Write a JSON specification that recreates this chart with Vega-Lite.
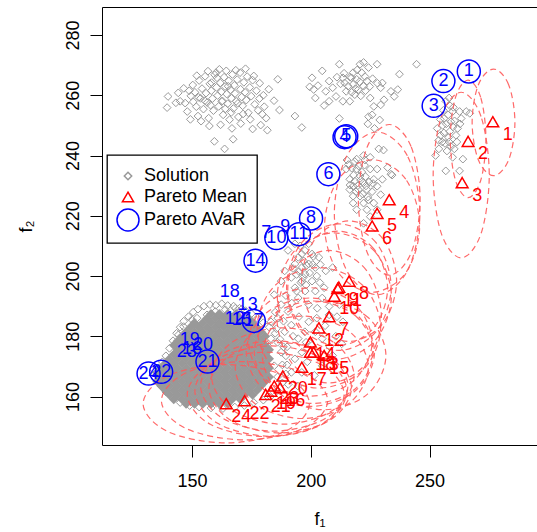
{
"$schema": "https://vega.github.io/schema/vega-lite/v6.json",
"width": 435, "height": 438,
"autosize": {"type": "none"},
"padding": {"left": 102, "top": 7, "right": 0, "bottom": 87},
"background": "white",
"config": {
 "view": {"stroke": null},
 "font": "Liberation Sans",
 "axis": {"grid": false, "domainColor": "black", "tickColor": "black", "labelColor": "black", "titleColor": "black", "labelFont": "Liberation Sans", "titleFont": "Liberation Sans", "labelFontSize": 18, "titleFontSize": 18, "titleFontWeight": "normal", "tickSize": 12, "domainWidth": 1, "tickWidth": 1},
 "legend": {"labelFont": "Liberation Sans", "labelFontSize": 18, "labelColor": "black", "padding": 9, "strokeColor": "black", "fillColor": "white", "rowPadding": 0, "labelOffset": 4, "symbolStrokeWidth": 1.5, "strokeWidth": 1.3, "symbolSize": 484}
},
"datasets": {
"sol": [
{"x":139.9,"y":259.6},{"x":139.5,"y":255.9},{"x":144.2,"y":260.8},{"x":146.5,"y":262.3},{"x":147.1,"y":257.4},{"x":148.0,"y":254.6},{"x":149.5,"y":259.8},{"x":150.3,"y":263.4},{"x":151.2,"y":261.0},{"x":151.8,"y":256.2},{"x":152.5,"y":253.1},{"x":153.0,"y":264.9},{"x":153.6,"y":259.0},{"x":154.2,"y":262.2},{"x":154.8,"y":255.4},{"x":155.5,"y":266.3},{"x":155.9,"y":260.7},{"x":156.4,"y":257.6},{"x":157.0,"y":252.4},{"x":157.5,"y":263.8},{"x":158.1,"y":261.5},{"x":158.6,"y":258.9},{"x":159.0,"y":254.9},{"x":159.5,"y":266.8},{"x":160.1,"y":267.5},{"x":160.3,"y":262.6},{"x":160.8,"y":259.9},{"x":161.2,"y":256.3},{"x":161.5,"y":268.6},{"x":161.9,"y":264.1},{"x":162.3,"y":261.1},{"x":162.8,"y":258.1},{"x":163.1,"y":253.5},{"x":163.5,"y":266.0},{"x":163.9,"y":262.9},{"x":164.4,"y":268.1},{"x":164.6,"y":260.4},{"x":165.0,"y":257.2},{"x":165.4,"y":264.8},{"x":165.8,"y":251.9},{"x":166.2,"y":261.8},{"x":166.6,"y":259.0},{"x":167.0,"y":266.9},{"x":167.4,"y":255.6},{"x":167.8,"y":263.3},{"x":168.1,"y":260.6},{"x":168.6,"y":258.0},{"x":169.0,"y":265.2},{"x":169.5,"y":252.8},{"x":170.2,"y":267.5},{"x":170.4,"y":262.0},{"x":170.9,"y":259.4},{"x":171.3,"y":256.5},{"x":171.8,"y":264.3},{"x":172.3,"y":261.0},{"x":172.8,"y":258.4},{"x":173.2,"y":266.2},{"x":173.7,"y":254.2},{"x":174.3,"y":262.6},{"x":174.9,"y":259.7},{"x":175.5,"y":265.0},{"x":176.0,"y":266.4},{"x":176.4,"y":257.0},{"x":177.1,"y":261.5},{"x":177.8,"y":255.0},{"x":178.4,"y":258.9},{"x":178.9,"y":250.1},{"x":179.6,"y":253.7},{"x":180.4,"y":256.2},{"x":181.2,"y":252.4},{"x":181.7,"y":248.4},{"x":186.1,"y":265.3},{"x":186.8,"y":255.1},{"x":193.3,"y":253.1},{"x":196.2,"y":249.3},{"x":159.4,"y":244.7},{"x":163.7,"y":242.2},{"x":167.3,"y":245.4},{"x":157.3,"y":249.8},{"x":162.0,"y":250.2},{"x":166.8,"y":249.0},{"x":170.5,"y":250.6},{"x":153.8,"y":251.4},{"x":149.3,"y":252.0},{"x":174.5,"y":252.0},{"x":175.5,"y":248.8},{"x":145.0,"y":258.0},{"x":143.2,"y":257.5},{"x":156.7,"y":268.0},{"x":152.0,"y":266.5},{"x":168.4,"y":268.3},{"x":172.5,"y":268.8},{"x":178.5,"y":264.0},{"x":180.0,"y":260.0},{"x":182.3,"y":262.0},{"x":184.5,"y":258.2},{"x":158.2,"y":264.2},{"x":160.5,"y":265.8},{"x":162.5,"y":258.0},{"x":164.0,"y":255.5},{"x":165.2,"y":263.0},{"x":166.5,"y":254.3},{"x":169.3,"y":257.3},{"x":171.5,"y":253.8},{"x":157.8,"y":256.7},{"x":155.4,"y":258.2},{"x":152.8,"y":259.3},{"x":150.5,"y":257.8},{"x":148.8,"y":261.5},
{"x":200.5,"y":265.8},{"x":201.2,"y":261.9},{"x":201.9,"y":259.1},{"x":204.8,"y":268.1},{"x":205.6,"y":256.6},{"x":206.3,"y":261.3},{"x":207.7,"y":264.7},{"x":209.2,"y":262.5},{"x":210.6,"y":259.6},{"x":212.0,"y":270.3},{"x":212.0,"y":252.3},{"x":213.5,"y":265.8},{"x":214.9,"y":261.3},{"x":216.4,"y":258.0},{"x":217.8,"y":267.5},{"x":217.8,"y":263.6},{"x":219.3,"y":265.3},{"x":220.0,"y":261.9},{"x":220.7,"y":270.3},{"x":221.4,"y":267.5},{"x":222.2,"y":270.9},{"x":223.6,"y":264.7},{"x":224.3,"y":269.2},{"x":225.0,"y":259.1},{"x":225.8,"y":253.5},{"x":226.5,"y":256.3},{"x":227.9,"y":270.3},{"x":229.4,"y":262.5},{"x":230.1,"y":264.1},{"x":230.8,"y":258.5},{"x":233.7,"y":261.3},{"x":235.1,"y":259.6},{"x":236.6,"y":261.9},{"x":237.3,"y":267.0},{"x":244.5,"y":270.3},{"x":229.4,"y":256.8},{"x":224.3,"y":252.9},{"x":214.2,"y":264.1},{"x":217.1,"y":265.8},{"x":218.5,"y":260.2},{"x":215.7,"y":263.0},{"x":222.2,"y":263.0},{"x":213.5,"y":258.0},{"x":207.7,"y":258.0},{"x":216.5,"y":266.0},{"x":218.8,"y":262.2},{"x":220.5,"y":264.5},{"x":222.8,"y":266.2},{"x":219.5,"y":268.4},{"x":217.2,"y":261.0},{"x":221.0,"y":259.8},{"x":223.0,"y":261.5},{"x":214.0,"y":267.3},{"x":212.5,"y":263.8},{"x":211.0,"y":266.0},{"x":226.0,"y":265.5},{"x":228.0,"y":264.0},{"x":224.8,"y":262.9},{"x":203.0,"y":263.2},{"x":199.5,"y":262.8},
{"x":219.3,"y":238.8},{"x":222.2,"y":240.0},{"x":225.0,"y":239.4},{"x":228.6,"y":242.2},{"x":232.3,"y":236.0},{"x":233.7,"y":233.8},{"x":214.9,"y":235.5},{"x":216.4,"y":232.1},{"x":217.8,"y":229.8},{"x":219.3,"y":235.5},{"x":220.7,"y":233.2},{"x":222.2,"y":231.0},{"x":223.6,"y":228.7},{"x":225.0,"y":235.5},{"x":226.5,"y":232.1},{"x":227.9,"y":229.8},{"x":229.4,"y":227.0},{"x":220.7,"y":226.5},{"x":222.2,"y":224.2},{"x":223.6,"y":222.0},{"x":225.0,"y":219.7},{"x":217.8,"y":224.2},{"x":219.3,"y":222.0},{"x":226.5,"y":224.2},{"x":227.9,"y":222.0},{"x":222.2,"y":217.5},{"x":217.8,"y":226.5},{"x":216.4,"y":228.7},{"x":220.0,"y":228.7},{"x":224.3,"y":225.3},{"x":227.9,"y":235.5},{"x":230.1,"y":232.1},{"x":218.5,"y":231.5},{"x":219.8,"y":230.0},{"x":221.0,"y":231.8},{"x":218.0,"y":233.5},{"x":220.2,"y":236.5},{"x":221.5,"y":234.5},{"x":223.0,"y":233.0},{"x":224.5,"y":231.2},{"x":219.0,"y":228.0},{"x":221.8,"y":227.2},{"x":223.2,"y":229.9},{"x":217.2,"y":235.8},{"x":215.8,"y":237.0},{"x":222.6,"y":236.8},{"x":224.0,"y":226.2},{"x":225.8,"y":228.0},{"x":218.5,"y":238.0},{"x":226.2,"y":230.7},{"x":216.5,"y":230.2},{"x":222.8,"y":238.5},{"x":224.0,"y":250.5},{"x":226.8,"y":249.0},{"x":229.0,"y":251.8},{"x":215.2,"y":238.5},{"x":230.6,"y":241.8},{"x":234.2,"y":233.5},
{"x":252.5,"y":240.0},{"x":253.9,"y":242.2},{"x":256.8,"y":258.0},{"x":258.2,"y":259.1},{"x":262.6,"y":254.6},{"x":263.3,"y":252.3},{"x":265.4,"y":254.6},{"x":266.9,"y":254.0},{"x":259.7,"y":239.4},{"x":262.6,"y":234.9},{"x":256.8,"y":234.9},{"x":264.0,"y":238.8},{"x":255.3,"y":244.5},{"x":256.1,"y":252.3},{"x":261.1,"y":246.7},{"x":259.0,"y":251.2},{"x":253.2,"y":249.0},{"x":254.6,"y":246.7},{"x":258.2,"y":244.5},{"x":260.4,"y":242.2},{"x":261.8,"y":249.0},{"x":259.7,"y":254.6},{"x":257.0,"y":250.5},{"x":258.5,"y":248.0},{"x":256.0,"y":247.5},{"x":259.8,"y":249.5},{"x":257.8,"y":253.5},{"x":255.5,"y":250.0},{"x":260.5,"y":251.5},{"x":258.0,"y":246.0},{"x":256.5,"y":244.0},{"x":259.0,"y":243.0},{"x":254.5,"y":252.0},{"x":257.3,"y":241.5},{"x":255.8,"y":255.0},{"x":261.5,"y":244.5},{"x":262.8,"y":250.5},{"x":253.8,"y":245.0},{"x":260.0,"y":256.0},{"x":258.6,"y":256.5},
{"x":190.4,"y":208.5},{"x":193.3,"y":210.7},{"x":194.7,"y":206.2},{"x":196.2,"y":202.8},{"x":197.6,"y":200.6},{"x":199.1,"y":204.0},{"x":200.5,"y":198.3},{"x":196.2,"y":198.3},{"x":191.8,"y":199.5},{"x":189.0,"y":201.7},{"x":193.3,"y":196.1},{"x":201.9,"y":195.0},{"x":204.8,"y":192.7},{"x":199.1,"y":190.5},{"x":194.7,"y":192.7},{"x":206.3,"y":201.7},{"x":209.2,"y":202.8},{"x":203.4,"y":206.2},{"x":193.3,"y":204.0},{"x":187.5,"y":198.3},{"x":196.2,"y":207.3},{"x":199.1,"y":210.7},{"x":200.5,"y":207.3},{"x":201.9,"y":202.8},{"x":197.6,"y":195.0},{"x":202.7,"y":189.3},{"x":207.7,"y":189.9},{"x":205.6,"y":196.1},{"x":195.0,"y":201.5},{"x":196.8,"y":199.5},{"x":198.2,"y":203.5},{"x":197.0,"y":205.0},{"x":195.8,"y":197.8},{"x":199.5,"y":201.0},{"x":200.8,"y":203.8},{"x":198.0,"y":197.0},{"x":194.0,"y":200.5},{"x":192.5,"y":202.5},{"x":202.5,"y":200.0},{"x":203.8,"y":197.8},{"x":201.0,"y":206.5},{"x":197.5,"y":208.5},{"x":195.5,"y":210.0},{"x":204.0,"y":203.8},
{"x":184.6,"y":193.8},{"x":187.5,"y":190.5},{"x":190.4,"y":188.2},{"x":186.1,"y":186.0},{"x":191.8,"y":183.7},{"x":189.0,"y":181.5},{"x":194.7,"y":179.2},{"x":199.1,"y":184.8},{"x":201.9,"y":181.5},{"x":196.2,"y":174.7},{"x":193.3,"y":172.5},{"x":187.5,"y":174.7},{"x":183.2,"y":179.2},{"x":184.6,"y":170.2},{"x":191.8,"y":168.0},{"x":200.5,"y":177.0},{"x":204.8,"y":179.2},{"x":207.7,"y":187.1},{"x":212.0,"y":190.5},{"x":213.5,"y":184.8},{"x":209.2,"y":173.6},{"x":204.8,"y":170.2},{"x":196.2,"y":168.0},{"x":183.2,"y":184.8},{"x":181.7,"y":177.0},{"x":186.0,"y":178.0},{"x":188.5,"y":185.0},{"x":190.0,"y":176.5},{"x":192.5,"y":180.0},{"x":185.5,"y":182.5},{"x":195.0,"y":186.5},{"x":197.5,"y":181.5},{"x":189.5,"y":193.5},{"x":192.0,"y":191.0},{"x":194.0,"y":195.0},{"x":185.0,"y":188.0},{"x":198.0,"y":178.0},{"x":202.5,"y":186.0},{"x":206.0,"y":183.5},{"x":210.5,"y":180.0},{"x":213.0,"y":177.5},{"x":208.0,"y":176.5},{"x":211.0,"y":186.5},{"x":188.0,"y":170.5},{"x":190.5,"y":164.0},{"x":186.0,"y":166.5},{"x":194.5,"y":163.5},{"x":198.5,"y":171.5},{"x":201.5,"y":167.0},
{"x":136.0,"y":169.5},{"x":137.5,"y":171.5},{"x":139.0,"y":173.5},{"x":140.5,"y":176.0},{"x":142.0,"y":178.5},{"x":143.5,"y":181.0},{"x":145.0,"y":183.0},{"x":146.5,"y":185.0},{"x":148.5,"y":186.5},{"x":150.5,"y":188.0},{"x":152.5,"y":189.0},{"x":155.0,"y":190.0},{"x":157.5,"y":190.5},{"x":160.0,"y":190.3},{"x":162.5,"y":190.8},{"x":165.0,"y":190.2},{"x":167.5,"y":190.0},{"x":170.0,"y":189.3},{"x":172.5,"y":188.5},{"x":175.0,"y":187.5},{"x":177.5,"y":186.0},{"x":180.0,"y":184.5},{"x":182.5,"y":183.0},{"x":185.0,"y":181.0},{"x":187.0,"y":179.0},{"x":188.5,"y":176.5},{"x":189.5,"y":173.5},{"x":190.0,"y":170.5},{"x":189.5,"y":167.5},{"x":188.0,"y":164.5},{"x":186.0,"y":162.0},{"x":183.0,"y":160.0},{"x":180.0,"y":158.8},{"x":176.0,"y":158.0},{"x":172.0,"y":157.0},{"x":168.0,"y":156.5},{"x":163.0,"y":156.0},{"x":158.0,"y":156.2},{"x":153.0,"y":156.5},{"x":149.0,"y":157.0},{"x":145.0,"y":158.0},{"x":142.0,"y":159.5},{"x":139.0,"y":161.5},{"x":137.0,"y":163.5},{"x":135.5,"y":165.5},{"x":134.5,"y":167.5},{"x":133.8,"y":169.0},{"x":144.3,"y":180.5},{"x":146.4,"y":183.2},{"x":150.0,"y":185.5},{"x":152.1,"y":186.0},{"x":156.3,"y":187.1},{"x":159.8,"y":188.2},{"x":164.0,"y":188.8},{"x":168.2,"y":189.3},{"x":171.0,"y":189.1}
],
"core": [
{"x":147.5,"y":157.5},{"x":151,"y":157.5},{"x":154.5,"y":157.5},{"x":158,"y":157.5},{"x":161.5,"y":157.5},{"x":165,"y":157.5},
{"x":142.3,"y":159},{"x":145.8,"y":159},{"x":149.3,"y":159},{"x":152.8,"y":159},{"x":156.3,"y":159},{"x":159.8,"y":159},{"x":163.3,"y":159},{"x":166.8,"y":159},{"x":170.3,"y":159},
{"x":140.5,"y":160.5},{"x":144,"y":160.5},{"x":147.5,"y":160.5},{"x":151,"y":160.5},{"x":154.5,"y":160.5},{"x":158,"y":160.5},{"x":161.5,"y":160.5},{"x":165,"y":160.5},{"x":168.5,"y":160.5},{"x":172,"y":160.5},{"x":175.5,"y":160.5},
{"x":138.8,"y":162},{"x":142.3,"y":162},{"x":145.8,"y":162},{"x":149.3,"y":162},{"x":152.8,"y":162},{"x":156.3,"y":162},{"x":159.8,"y":162},{"x":163.3,"y":162},{"x":166.8,"y":162},{"x":170.3,"y":162},{"x":173.8,"y":162},{"x":177.3,"y":162},
{"x":137,"y":163.5},{"x":140.5,"y":163.5},{"x":144,"y":163.5},{"x":147.5,"y":163.5},{"x":151,"y":163.5},{"x":154.5,"y":163.5},{"x":158,"y":163.5},{"x":161.5,"y":163.5},{"x":165,"y":163.5},{"x":168.5,"y":163.5},{"x":172,"y":163.5},{"x":175.5,"y":163.5},{"x":179,"y":163.5},
{"x":135.3,"y":165},{"x":138.8,"y":165},{"x":142.3,"y":165},{"x":145.8,"y":165},{"x":149.3,"y":165},{"x":152.8,"y":165},{"x":156.3,"y":165},{"x":159.8,"y":165},{"x":163.3,"y":165},{"x":166.8,"y":165},{"x":170.3,"y":165},{"x":173.8,"y":165},{"x":177.3,"y":165},{"x":180.8,"y":165},
{"x":137,"y":166.5},{"x":140.5,"y":166.5},{"x":144,"y":166.5},{"x":147.5,"y":166.5},{"x":151,"y":166.5},{"x":154.5,"y":166.5},{"x":158,"y":166.5},{"x":161.5,"y":166.5},{"x":165,"y":166.5},{"x":168.5,"y":166.5},{"x":172,"y":166.5},{"x":175.5,"y":166.5},{"x":179,"y":166.5},{"x":182.5,"y":166.5},
{"x":135.3,"y":168},{"x":138.8,"y":168},{"x":142.3,"y":168},{"x":145.8,"y":168},{"x":149.3,"y":168},{"x":152.8,"y":168},{"x":156.3,"y":168},{"x":159.8,"y":168},{"x":163.3,"y":168},{"x":166.8,"y":168},{"x":170.3,"y":168},{"x":173.8,"y":168},{"x":177.3,"y":168},{"x":180.8,"y":168},
{"x":137,"y":169.5},{"x":140.5,"y":169.5},{"x":144,"y":169.5},{"x":147.5,"y":169.5},{"x":151,"y":169.5},{"x":154.5,"y":169.5},{"x":158,"y":169.5},{"x":161.5,"y":169.5},{"x":165,"y":169.5},{"x":168.5,"y":169.5},{"x":172,"y":169.5},{"x":175.5,"y":169.5},{"x":179,"y":169.5},{"x":182.5,"y":169.5},
{"x":138.8,"y":171},{"x":142.3,"y":171},{"x":145.8,"y":171},{"x":149.3,"y":171},{"x":152.8,"y":171},{"x":156.3,"y":171},{"x":159.8,"y":171},{"x":163.3,"y":171},{"x":166.8,"y":171},{"x":170.3,"y":171},{"x":173.8,"y":171},{"x":177.3,"y":171},{"x":180.8,"y":171},
{"x":140.5,"y":172.5},{"x":144,"y":172.5},{"x":147.5,"y":172.5},{"x":151,"y":172.5},{"x":154.5,"y":172.5},{"x":158,"y":172.5},{"x":161.5,"y":172.5},{"x":165,"y":172.5},{"x":168.5,"y":172.5},{"x":172,"y":172.5},{"x":175.5,"y":172.5},{"x":179,"y":172.5},{"x":182.5,"y":172.5},
{"x":142.3,"y":174},{"x":145.8,"y":174},{"x":149.3,"y":174},{"x":152.8,"y":174},{"x":156.3,"y":174},{"x":159.8,"y":174},{"x":163.3,"y":174},{"x":166.8,"y":174},{"x":170.3,"y":174},{"x":173.8,"y":174},{"x":177.3,"y":174},{"x":180.8,"y":174},
{"x":144,"y":175.5},{"x":147.5,"y":175.5},{"x":151,"y":175.5},{"x":154.5,"y":175.5},{"x":158,"y":175.5},{"x":161.5,"y":175.5},{"x":165,"y":175.5},{"x":168.5,"y":175.5},{"x":172,"y":175.5},{"x":175.5,"y":175.5},{"x":179,"y":175.5},{"x":182.5,"y":175.5},
{"x":142.3,"y":177},{"x":145.8,"y":177},{"x":149.3,"y":177},{"x":152.8,"y":177},{"x":156.3,"y":177},{"x":159.8,"y":177},{"x":163.3,"y":177},{"x":166.8,"y":177},{"x":170.3,"y":177},{"x":173.8,"y":177},{"x":177.3,"y":177},{"x":180.8,"y":177},
{"x":144,"y":178.5},{"x":147.5,"y":178.5},{"x":151,"y":178.5},{"x":154.5,"y":178.5},{"x":158,"y":178.5},{"x":161.5,"y":178.5},{"x":165,"y":178.5},{"x":168.5,"y":178.5},{"x":172,"y":178.5},{"x":175.5,"y":178.5},{"x":179,"y":178.5},
{"x":145.8,"y":180},{"x":149.3,"y":180},{"x":152.8,"y":180},{"x":156.3,"y":180},{"x":159.8,"y":180},{"x":163.3,"y":180},{"x":166.8,"y":180},{"x":170.3,"y":180},{"x":173.8,"y":180},{"x":177.3,"y":180},{"x":180.8,"y":180},
{"x":147.5,"y":181.5},{"x":151,"y":181.5},{"x":154.5,"y":181.5},{"x":158,"y":181.5},{"x":161.5,"y":181.5},{"x":165,"y":181.5},{"x":168.5,"y":181.5},{"x":172,"y":181.5},{"x":175.5,"y":181.5},{"x":179,"y":181.5},
{"x":149.3,"y":183},{"x":152.8,"y":183},{"x":156.3,"y":183},{"x":159.8,"y":183},{"x":163.3,"y":183},{"x":166.8,"y":183},{"x":170.3,"y":183},{"x":173.8,"y":183},{"x":177.3,"y":183},
{"x":151,"y":184.5},{"x":154.5,"y":184.5},{"x":158,"y":184.5},{"x":161.5,"y":184.5},{"x":165,"y":184.5},{"x":168.5,"y":184.5},{"x":172,"y":184.5},{"x":175.5,"y":184.5},
{"x":156.3,"y":186},{"x":159.8,"y":186},{"x":163.3,"y":186},{"x":166.8,"y":186},{"x":170.3,"y":186},{"x":173.8,"y":186},
{"x":158,"y":187.5},{"x":161.5,"y":187.5},{"x":165,"y":187.5},{"x":168.5,"y":187.5}
],
"ell": [
{"e":1,"k":0,"x":285.9,"y":251.0},{"e":1,"k":1,"x":283.26,"y":263.51},{"e":1,"k":2,"x":276.9,"y":268.7},{"e":1,"k":3,"x":270.54,"y":263.51},{"e":1,"k":4,"x":267.9,"y":251.0},{"e":1,"k":5,"x":270.54,"y":238.49},{"e":1,"k":6,"x":276.9,"y":233.3},{"e":1,"k":7,"x":283.26,"y":238.49},
{"e":2,"k":0,"x":273.7,"y":245.5},{"e":2,"k":1,"x":271.5,"y":259.29},{"e":2,"k":2,"x":266.2,"y":265.0},{"e":2,"k":3,"x":260.9,"y":259.29},{"e":2,"k":4,"x":258.7,"y":245.5},{"e":2,"k":5,"x":260.9,"y":231.71},{"e":2,"k":6,"x":266.2,"y":226.0},{"e":2,"k":7,"x":271.5,"y":231.71},
{"e":3,"k":0,"x":275.1,"y":233.5},{"e":3,"k":1,"x":271.64,"y":252.94},{"e":3,"k":2,"x":263.3,"y":261.0},{"e":3,"k":3,"x":254.96,"y":252.94},{"e":3,"k":4,"x":251.5,"y":233.5},{"e":3,"k":5,"x":254.96,"y":214.06},{"e":3,"k":6,"x":263.3,"y":206.0},{"e":3,"k":7,"x":271.64,"y":214.06},
{"e":4,"k":0,"x":246.0,"y":225.3},{"e":4,"k":1,"x":242.19,"y":242.98},{"e":4,"k":2,"x":233.0,"y":250.3},{"e":4,"k":3,"x":223.81,"y":242.98},{"e":4,"k":4,"x":220.0,"y":225.3},{"e":4,"k":5,"x":223.81,"y":207.62},{"e":4,"k":6,"x":233.0,"y":200.3},{"e":4,"k":7,"x":242.19,"y":207.62},
{"e":5,"k":0,"x":245.9,"y":220.8},{"e":5,"k":1,"x":240.63,"y":239.89},{"e":5,"k":2,"x":227.9,"y":247.8},{"e":5,"k":3,"x":215.17,"y":239.89},{"e":5,"k":4,"x":209.9,"y":220.8},{"e":5,"k":5,"x":215.17,"y":201.71},{"e":5,"k":6,"x":227.9,"y":193.8},{"e":5,"k":7,"x":240.63,"y":201.71},
{"e":6,"k":0,"x":245.8,"y":216.6},{"e":6,"k":1,"x":239.94,"y":232.15},{"e":6,"k":2,"x":225.8,"y":238.6},{"e":6,"k":3,"x":211.66,"y":232.15},{"e":6,"k":4,"x":205.8,"y":216.6},{"e":6,"k":5,"x":211.66,"y":201.05},{"e":6,"k":6,"x":225.8,"y":194.6},{"e":6,"k":7,"x":239.94,"y":201.05},
{"e":7,"k":0,"x":229.7,"y":186.5},{"e":7,"k":1,"x":223.25,"y":202.05},{"e":7,"k":2,"x":207.7,"y":208.5},{"e":7,"k":3,"x":192.15,"y":202.05},{"e":7,"k":4,"x":185.7,"y":186.5},{"e":7,"k":5,"x":192.15,"y":170.95},{"e":7,"k":6,"x":207.7,"y":164.5},{"e":7,"k":7,"x":223.25,"y":170.95},
{"e":8,"k":0,"x":236.1,"y":198.3},{"e":8,"k":1,"x":230.24,"y":212.44},{"e":8,"k":2,"x":216.1,"y":218.3},{"e":8,"k":3,"x":201.96,"y":212.44},{"e":8,"k":4,"x":196.1,"y":198.3},{"e":8,"k":5,"x":201.96,"y":184.16},{"e":8,"k":6,"x":216.1,"y":178.3},{"e":8,"k":7,"x":230.24,"y":184.16},
{"e":9,"k":0,"x":233.8,"y":196.3},{"e":9,"k":1,"x":227.35,"y":211.15},{"e":9,"k":2,"x":211.8,"y":217.3},{"e":9,"k":3,"x":196.25,"y":211.15},{"e":9,"k":4,"x":189.8,"y":196.3},{"e":9,"k":5,"x":196.25,"y":181.45},{"e":9,"k":6,"x":211.8,"y":175.3},{"e":9,"k":7,"x":227.35,"y":181.45},
{"e":10,"k":0,"x":233.9,"y":193.3},{"e":10,"k":1,"x":226.87,"y":208.15},{"e":10,"k":2,"x":209.9,"y":214.3},{"e":10,"k":3,"x":192.93,"y":208.15},{"e":10,"k":4,"x":185.9,"y":193.3},{"e":10,"k":5,"x":192.93,"y":178.45},{"e":10,"k":6,"x":209.9,"y":172.3},{"e":10,"k":7,"x":226.87,"y":178.45},
{"e":11,"k":0,"x":232.3,"y":195.9},{"e":11,"k":1,"x":226.15,"y":209.33},{"e":11,"k":2,"x":211.3,"y":214.9},{"e":11,"k":3,"x":196.45,"y":209.33},{"e":11,"k":4,"x":190.3,"y":195.9},{"e":11,"k":5,"x":196.45,"y":182.47},{"e":11,"k":6,"x":211.3,"y":176.9},{"e":11,"k":7,"x":226.15,"y":182.47},
{"e":12,"k":0,"x":229.4,"y":182.8},{"e":12,"k":1,"x":221.78,"y":196.94},{"e":12,"k":2,"x":203.4,"y":202.8},{"e":12,"k":3,"x":185.02,"y":196.94},{"e":12,"k":4,"x":177.4,"y":182.8},{"e":12,"k":5,"x":185.02,"y":168.66},{"e":12,"k":6,"x":203.4,"y":162.8},{"e":12,"k":7,"x":221.78,"y":168.66},
{"e":13,"k":0,"x":226.2,"y":174.7},{"e":13,"k":1,"x":218.88,"y":186.72},{"e":13,"k":2,"x":201.2,"y":191.7},{"e":13,"k":3,"x":183.52,"y":186.72},{"e":13,"k":4,"x":176.2,"y":174.7},{"e":13,"k":5,"x":183.52,"y":162.68},{"e":13,"k":6,"x":201.2,"y":157.7},{"e":13,"k":7,"x":218.88,"y":162.68},
{"e":14,"k":0,"x":225.8,"y":178.1},{"e":14,"k":1,"x":218.18,"y":190.83},{"e":14,"k":2,"x":199.8,"y":196.1},{"e":14,"k":3,"x":181.42,"y":190.83},{"e":14,"k":4,"x":173.8,"y":178.1},{"e":14,"k":5,"x":181.42,"y":165.37},{"e":14,"k":6,"x":199.8,"y":160.1},{"e":14,"k":7,"x":218.18,"y":165.37},
{"e":15,"k":0,"x":231.6,"y":173.6},{"e":15,"k":1,"x":223.98,"y":186.33},{"e":15,"k":2,"x":205.6,"y":191.6},{"e":15,"k":3,"x":187.22,"y":186.33},{"e":15,"k":4,"x":179.6,"y":173.6},{"e":15,"k":5,"x":187.22,"y":160.87},{"e":15,"k":6,"x":205.6,"y":155.6},{"e":15,"k":7,"x":223.98,"y":160.87},
{"e":16,"k":0,"x":217.1,"y":162.9},{"e":16,"k":1,"x":208.31,"y":173.51},{"e":16,"k":2,"x":187.1,"y":177.9},{"e":16,"k":3,"x":165.89,"y":173.51},{"e":16,"k":4,"x":157.1,"y":162.9},{"e":16,"k":5,"x":165.89,"y":152.29},{"e":16,"k":6,"x":187.1,"y":147.9},{"e":16,"k":7,"x":208.31,"y":152.29},
{"e":17,"k":0,"x":224.2,"y":169.7},{"e":17,"k":1,"x":216.0,"y":181.72},{"e":17,"k":2,"x":196.2,"y":186.7},{"e":17,"k":3,"x":176.4,"y":181.72},{"e":17,"k":4,"x":168.2,"y":169.7},{"e":17,"k":5,"x":176.4,"y":157.68},{"e":17,"k":6,"x":196.2,"y":152.7},{"e":17,"k":7,"x":216.0,"y":157.68},
{"e":18,"k":0,"x":226.8,"y":174.7},{"e":18,"k":1,"x":218.89,"y":187.43},{"e":18,"k":2,"x":199.8,"y":192.7},{"e":18,"k":3,"x":180.71,"y":187.43},{"e":18,"k":4,"x":172.8,"y":174.7},{"e":18,"k":5,"x":180.71,"y":161.97},{"e":18,"k":6,"x":199.8,"y":156.7},{"e":18,"k":7,"x":218.89,"y":161.97},
{"e":19,"k":0,"x":215.2,"y":161.8},{"e":19,"k":1,"x":205.82,"y":172.41},{"e":19,"k":2,"x":183.2,"y":176.8},{"e":19,"k":3,"x":160.58,"y":172.41},{"e":19,"k":4,"x":151.2,"y":161.8},{"e":19,"k":5,"x":160.58,"y":151.19},{"e":19,"k":6,"x":183.2,"y":146.8},{"e":19,"k":7,"x":205.82,"y":151.19},
{"e":20,"k":0,"x":218.2,"y":166.8},{"e":20,"k":1,"x":209.41,"y":178.11},{"e":20,"k":2,"x":188.2,"y":182.8},{"e":20,"k":3,"x":166.99,"y":178.11},{"e":20,"k":4,"x":158.2,"y":166.8},{"e":20,"k":5,"x":166.99,"y":155.49},{"e":20,"k":6,"x":188.2,"y":150.8},{"e":20,"k":7,"x":209.41,"y":155.49},
{"e":21,"k":0,"x":214.0,"y":160.7},{"e":21,"k":1,"x":204.33,"y":170.6},{"e":21,"k":2,"x":181.0,"y":174.7},{"e":21,"k":3,"x":157.67,"y":170.6},{"e":21,"k":4,"x":148.0,"y":160.7},{"e":21,"k":5,"x":157.67,"y":150.8},{"e":21,"k":6,"x":181.0,"y":146.7},{"e":21,"k":7,"x":204.33,"y":150.8},
{"e":22,"k":0,"x":207.1,"y":158.6},{"e":22,"k":1,"x":196.85,"y":167.79},{"e":22,"k":2,"x":172.1,"y":171.6},{"e":22,"k":3,"x":147.35,"y":167.79},{"e":22,"k":4,"x":137.1,"y":158.6},{"e":22,"k":5,"x":147.35,"y":149.41},{"e":22,"k":6,"x":172.1,"y":145.6},{"e":22,"k":7,"x":196.85,"y":149.41},
{"e":23,"k":0,"x":215.6,"y":163.5},{"e":23,"k":1,"x":206.52,"y":174.11},{"e":23,"k":2,"x":184.6,"y":178.5},{"e":23,"k":3,"x":162.68,"y":174.11},{"e":23,"k":4,"x":153.6,"y":163.5},{"e":23,"k":5,"x":162.68,"y":152.89},{"e":23,"k":6,"x":184.6,"y":148.5},{"e":23,"k":7,"x":206.52,"y":152.89},
{"e":24,"k":0,"x":199.4,"y":157.6},{"e":24,"k":1,"x":189.15,"y":166.79},{"e":24,"k":2,"x":164.4,"y":170.6},{"e":24,"k":3,"x":139.65,"y":166.79},{"e":24,"k":4,"x":129.4,"y":157.6},{"e":24,"k":5,"x":139.65,"y":148.41},{"e":24,"k":6,"x":164.4,"y":144.6},{"e":24,"k":7,"x":189.15,"y":148.41}
],
"mean": [
{"n":1,"x":276.6,"y":251.2},{"n":2,"x":266.2,"y":244.7},{"n":3,"x":263.7,"y":231.0},{"n":4,"x":233.0,"y":225.3},{"n":5,"x":227.9,"y":220.8},{"n":6,"x":225.8,"y":216.6},{"n":7,"x":207.7,"y":186.5},{"n":8,"x":216.1,"y":198.3},{"n":9,"x":211.8,"y":196.3},{"n":10,"x":209.9,"y":193.3},{"n":11,"x":211.3,"y":195.9},{"n":12,"x":203.4,"y":182.8},{"n":13,"x":201.2,"y":174.7},{"n":14,"x":199.8,"y":178.1},{"n":15,"x":205.6,"y":173.6},{"n":16,"x":187.1,"y":162.9},{"n":17,"x":196.2,"y":169.7},{"n":18,"x":199.8,"y":174.7},{"n":19,"x":183.2,"y":161.8},{"n":20,"x":188.2,"y":166.8},{"n":21,"x":181.0,"y":160.7},{"n":22,"x":172.1,"y":158.6},{"n":23,"x":184.6,"y":163.5},{"n":24,"x":164.4,"y":157.6}
],
"avar": [
{"n":1,"x":266.5,"y":267.9},{"n":2,"x":255.8,"y":264.7},{"n":3,"x":251.7,"y":256.5},{"n":4,"x":214.2,"y":246.1},{"n":5,"x":214.9,"y":246.4},{"n":6,"x":207.4,"y":233.8},{"n":7,"x":181.2,"y":214.3},{"n":8,"x":200.1,"y":219.1},{"n":9,"x":189.2,"y":216.3},{"n":10,"x":185.5,"y":212.6},{"n":11,"x":195.0,"y":213.9},{"n":12,"x":168.0,"y":185.7},{"n":13,"x":173.4,"y":190.5},{"n":14,"x":176.7,"y":205.1},{"n":15,"x":170.9,"y":185.4},{"n":16,"x":150.0,"y":175.9},{"n":17,"x":176.0,"y":185.1},{"n":18,"x":165.9,"y":194.7},{"n":19,"x":149.0,"y":178.7},{"n":20,"x":154.6,"y":177.2},{"n":21,"x":156.5,"y":171.6},{"n":22,"x":137.0,"y":168.2},{"n":23,"x":147.8,"y":174.7},{"n":24,"x":131.7,"y":167.6}
]
},
"layer": [
{
 "data": {"name": "sol"},
 "mark": {"type": "point", "filled": false, "strokeWidth": 1, "opacity": 1, "size": 529},
 "encoding": {
  "x": {"field": "x", "type": "quantitative", "scale": {"domain": [112.1, 295.2], "nice": false, "zero": false},
        "axis": {"orient": "bottom", "title": "f₁", "values": [150, 200, 250], "labelPadding": 15, "labelFlush": false, "labelOverlap": false, "titleY": 79, "titleBaseline": "alphabetic"}},
  "y": {"field": "y", "type": "quantitative", "scale": {"domain": [143.9, 289.3], "nice": false, "zero": false},
        "axis": {"title": "f₂", "values": [160, 180, 200, 220, 240, 260, 280], "labelAngle": -90, "labelAlign": "center", "labelBaseline": "alphabetic", "labelPadding": 12, "labelFlush": false, "labelOverlap": false, "titleX": -71, "titleY": 219, "titleAngle": -90, "titleAlign": "center", "titleBaseline": "alphabetic"}},
  "color": {"datum": "Solution", "scale": {"domain": ["Solution", "Pareto Mean", "Pareto AVaR"], "range": ["#999999", "#ff0000", "#0000ff"]},
            "legend": {"title": null, "orient": "none", "legendX": 5, "legendY": 148}},
  "shape": {"datum": "Solution", "scale": {"domain": ["Solution", "Pareto Mean", "Pareto AVaR"], "range": ["M-0.337,0L0,-0.337L0.337,0L0,0.337Z", "M0,-0.441L0.509,0.441L-0.509,0.441Z", "circle"]},
            "legend": {"title": null, "orient": "none", "legendX": 5, "legendY": 148}}
 }
},
{
 "data": {"name": "core"},
 "mark": {"type": "point", "shape": "diamond", "filled": true, "size": 90, "color": "#999999", "opacity": 1, "strokeWidth": 0},
 "encoding": {
  "x": {"field": "x", "type": "quantitative", "scale": {"domain": [112.1, 295.2], "nice": false, "zero": false}, "axis": null},
  "y": {"field": "y", "type": "quantitative", "scale": {"domain": [143.9, 289.3], "nice": false, "zero": false}}
 }
},
{
 "data": {"name": "ell"},
 "mark": {"type": "line", "interpolate": "cardinal-closed", "color": "#ff5a5a", "strokeWidth": 1.2, "strokeDash": [6, 4], "opacity": 0.9, "clip": true},
 "encoding": {
  "x": {"field": "x", "type": "quantitative", "scale": {"domain": [112.1, 295.2], "nice": false, "zero": false}, "axis": null},
  "y": {"field": "y", "type": "quantitative", "scale": {"domain": [143.9, 289.3], "nice": false, "zero": false}},
  "detail": {"field": "e", "type": "nominal"},
  "order": {"field": "k", "type": "quantitative"}
 }
},
{
 "data": {"name": "mean"},
 "mark": {"type": "point", "filled": false, "strokeWidth": 1.5, "opacity": 1, "size": 529},
 "encoding": {
  "x": {"field": "x", "type": "quantitative", "scale": {"domain": [112.1, 295.2], "nice": false, "zero": false}, "axis": null},
  "y": {"field": "y", "type": "quantitative", "scale": {"domain": [143.9, 289.3], "nice": false, "zero": false}},
  "color": {"datum": "Pareto Mean"},
  "shape": {"datum": "Pareto Mean"}
 }
},
{
 "data": {"name": "mean"},
 "mark": {"type": "text", "color": "#ff0000", "fontSize": 18, "font": "Liberation Sans", "dx": 15, "dy": 13, "align": "center", "baseline": "middle"},
 "encoding": {
  "x": {"field": "x", "type": "quantitative", "scale": {"domain": [112.1, 295.2], "nice": false, "zero": false}, "axis": {"orient": "top", "labels": false, "ticks": false, "title": null, "domain": true}},
  "y": {"field": "y", "type": "quantitative", "scale": {"domain": [143.9, 289.3], "nice": false, "zero": false}},
  "text": {"field": "n", "type": "nominal"}
 }
},
{
 "data": {"name": "avar"},
 "transform": [{"filter": {"field": "n", "oneOf": [1, 2, 3, 4, 5, 6, 8, 10, 11, 14, 17, 21, 22, 24]}}],
 "mark": {"type": "point", "filled": false, "strokeWidth": 1.5, "opacity": 1, "size": 529},
 "encoding": {
  "x": {"field": "x", "type": "quantitative", "scale": {"domain": [112.1, 295.2], "nice": false, "zero": false}, "axis": null},
  "y": {"field": "y", "type": "quantitative", "scale": {"domain": [143.9, 289.3], "nice": false, "zero": false}},
  "color": {"datum": "Pareto AVaR"},
  "shape": {"datum": "Pareto AVaR"}
 }
},
{
 "data": {"name": "avar"},
 "mark": {"type": "text", "color": "#0000ff", "fontSize": 18, "font": "Liberation Sans", "align": "center", "baseline": "middle"},
 "encoding": {
  "x": {"field": "x", "type": "quantitative", "scale": {"domain": [112.1, 295.2], "nice": false, "zero": false}, "axis": null},
  "y": {"field": "y", "type": "quantitative", "scale": {"domain": [143.9, 289.3], "nice": false, "zero": false}},
  "text": {"field": "n", "type": "nominal"}
 }
}
],
"resolve": {"axis": {"x": "independent"}}
}
